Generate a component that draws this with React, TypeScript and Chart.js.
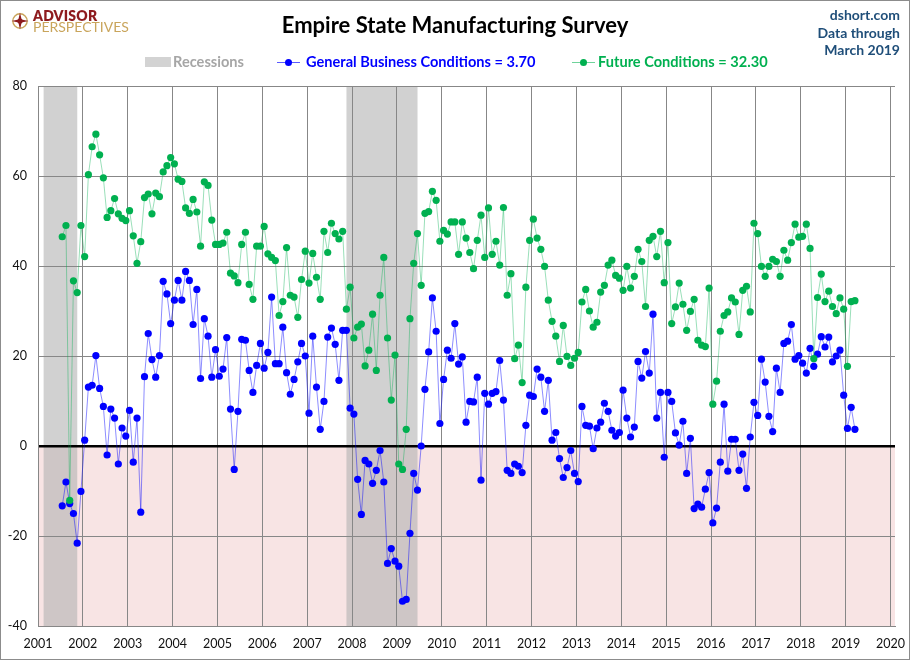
import React, { useEffect, useRef } from 'react';
import Chart from 'chart.js/auto';

// first observation of both series
const startYear = 2001;
const startMonth = 7;

// General Business Conditions, monthly from Jul 2001 to Mar 2019
const generalBusiness = [
  -13.3, -8.0, -12.8, -15.0, -21.6, -10.1, // 2001 (Jul-Dec)
  1.3, 13.1, 13.5, 20.1, 12.8, 8.8, -2.0, 8.2, 6.2, -4.0, 4.0, 2.2, // 2002
  7.9, -3.6, 6.2, -14.7, 15.4, 25.0, 19.2, 15.3, 20.1, 36.6, 33.8, 27.2, // 2003
  32.4, 36.8, 32.4, 38.8, 36.8, 27.0, 34.8, 15.0, 28.3, 24.4, 15.3, 21.4, // 2004
  15.5, 17.1, 24.1, 8.2, -5.2, 7.7, 23.7, 23.5, 16.8, 11.9, 17.9, 22.8, // 2005
  17.3, 20.8, 33.1, 18.3, 18.3, 26.4, 16.3, 11.5, 14.8, 18.7, 22.8, 20.0, // 2006
  7.3, 24.4, 13.1, 3.7, 9.9, 24.2, 26.2, 22.6, 14.6, 25.7, 25.7, 8.4, // 2007
  7.1, -7.4, -15.2, -3.2, -4.0, -8.3, -5.4, -1.0, -8.0, -26.1, -22.8, -25.6, // 2008
  -26.7, -34.5, -34.1, -19.4, -6.1, -9.8, 0.0, 12.6, 20.9, 32.9, 25.5, 5.0, // 2009
  14.8, 21.3, 19.5, 27.2, 18.2, 19.8, 5.3, 9.9, 9.8, 15.3, -7.6, 11.7, // 2010
  9.3, 11.7, 12.1, 19.0, 10.2, -5.4, -6.1, -4.0, -4.5, -5.9, 4.6, 11.3, // 2011
  11.0, 17.1, 15.3, 7.7, 14.6, 1.3, 3.0, -2.8, -7.0, -4.8, -1.0, -6.1, // 2012
  -7.9, 8.8, 4.6, 4.4, -0.6, 4.0, 5.3, 9.5, 7.7, 3.5, 2.2, 3.0, // 2013
  12.4, 6.2, 2.0, 4.2, 18.8, 15.1, 21.0, 16.2, 29.3, 6.2, 11.9, -2.5, // 2014
  11.9, 9.9, 2.9, 0.2, 5.5, -6.1, 1.7, -13.9, -12.9, -13.6, -9.6, -5.9, // 2015
  -17.1, -13.8, -3.6, 9.3, -5.6, 1.5, 1.5, -5.4, -1.8, -9.4, 2.0, 9.7, // 2016
  6.8, 19.3, 14.2, 6.6, 3.2, 17.3, 11.9, 22.8, 23.3, 27.0, 19.3, 20.1, // 2017
  18.4, 16.2, 21.7, 17.7, 20.4, 24.3, 22.0, 24.2, 18.7, 20.0, 21.3, 11.3, // 2018
  3.9, 8.6, 3.7, // 2019 (Jan-Mar)
];

// Future Conditions, same months
const futureConditions = [
  46.5, 49.0, -12.1, 36.7, 34.1, 49.0, // 2001 (Jul-Dec)
  42.1, 60.3, 66.5, 69.3, 64.7, 59.6, 50.8, 52.3, 55.0, 51.6, 50.6, 50.1, // 2002
  52.3, 46.7, 40.6, 45.4, 55.2, 56.0, 51.6, 56.2, 55.4, 60.9, 62.3, 64.1, // 2003
  62.7, 59.3, 58.8, 52.9, 51.7, 54.8, 52.0, 44.4, 58.7, 57.9, 50.2, 44.8, // 2004
  44.8, 45.1, 47.5, 38.4, 37.8, 36.3, 44.8, 47.5, 35.9, 32.6, 44.4, 44.4, // 2005
  48.8, 42.7, 41.9, 41.2, 29.0, 32.1, 44.1, 33.5, 33.1, 28.6, 37.0, 43.3, // 2006
  36.2, 42.8, 37.5, 32.6, 47.7, 43.0, 49.5, 47.2, 46.0, 47.7, 30.4, 35.3, // 2007
  24.0, 26.4, 27.1, 17.8, 21.3, 29.3, 16.8, 33.5, 41.9, 24.0, 10.2, 20.2, // 2008
  -4.0, -5.2, 3.7, 28.3, 40.6, 47.2, 35.7, 51.7, 52.1, 56.6, 54.6, 45.5, // 2009
  47.9, 47.1, 49.8, 49.8, 42.6, 49.8, 46.2, 43.0, 39.4, 45.7, 51.3, 41.9, // 2010
  52.9, 42.6, 45.5, 40.2, 53.0, 33.5, 38.3, 19.4, 22.4, 14.1, 35.3, 45.7, // 2011
  50.4, 46.2, 43.7, 39.9, 32.4, 27.7, 24.4, 18.8, 26.8, 19.9, 17.9, 19.5, // 2012
  20.8, 32.0, 34.8, 30.0, 26.4, 27.5, 34.2, 35.7, 40.2, 41.3, 37.9, 37.3, // 2013
  34.6, 39.9, 35.1, 37.7, 43.7, 41.0, 31.0, 45.7, 46.6, 42.1, 47.7, 36.3, // 2014
  45.2, 27.2, 30.9, 36.2, 31.5, 25.7, 29.9, 32.6, 23.5, 22.4, 22.1, 35.1, // 2015
  9.3, 14.4, 25.5, 29.0, 29.8, 32.9, 32.0, 24.8, 34.6, 35.5, 29.8, 49.5, // 2016
  47.2, 39.9, 37.7, 39.9, 41.5, 41.0, 37.7, 43.5, 41.3, 45.2, 49.3, 46.4, // 2017
  46.6, 49.3, 43.9, 19.4, 33.0, 38.2, 32.1, 34.4, 31.0, 29.4, 32.9, 30.4, // 2018
  17.7, 32.1, 32.3, // 2019 (Jan-Mar)
];

// NBER recessions, first and last month
const recessionStarts = ['2001-03', '2007-12'];
const recessionEnds = ['2001-11', '2009-06'];

const yearTicks = [
  2001, 2002, 2003, 2004, 2005, 2006, 2007, 2008, 2009, 2010,
  2011, 2012, 2013, 2014, 2015, 2016, 2017, 2018, 2019, 2020,
];
const valueTicks = [-40, -20, 0, 20, 40, 60, 80];

const FONT = 'Lato, "Open Sans", sans-serif';
const GRID = '#878787';

const monthX = (i: number) => {
  const m = startMonth - 1 + i;
  return startYear + Math.floor(m / 12) + (m % 12) / 12 + 0.04;
};

const ymToX = (s: string, shift: number) => {
  const [y, m] = s.split('-').map(Number);
  return y + (m - 1 + shift) / 12;
};

const backdrop = {
  id: 'backdrop',
  beforeDraw(chart: any) {
    const { ctx, chartArea: a, scales } = chart;
    const x = scales.x;
    const y = scales.y;
    ctx.save();
    const zero = y.getPixelForValue(0);
    ctx.fillStyle = '#F8E4E4';
    ctx.fillRect(a.left, zero, a.right - a.left, a.bottom - zero);
    ctx.fillStyle = 'rgba(175,175,175,0.58)';
    recessionStarts.forEach((s, i) => {
      const x0 = x.getPixelForValue(ymToX(s, -0.5));
      const x1 = x.getPixelForValue(ymToX(recessionEnds[i], 0.5));
      ctx.fillRect(x0, a.top, x1 - x0, a.bottom - a.top);
    });
    ctx.restore();
  },
};

const EmpireChart: React.FC = () => {
  const canvasRef = useRef<HTMLCanvasElement>(null);
  const chartRef = useRef<Chart | null>(null);

  useEffect(() => {
    if (!canvasRef.current) return;
    if (chartRef.current) chartRef.current.destroy();

    chartRef.current = new Chart(canvasRef.current, {
      type: 'line',
      data: {
        datasets: [
          {
            label: 'Future Conditions',
            data: futureConditions.map((v, i) => ({ x: monthX(i), y: v })),
            borderColor: 'rgba(0,176,80,0.4)',
            borderWidth: 1,
            pointBackgroundColor: '#00B050',
            pointBorderWidth: 0,
            pointRadius: 3.6,
            order: 0,
          },
          {
            label: 'General Business Conditions',
            data: generalBusiness.map((v, i) => ({ x: monthX(i), y: v })),
            borderColor: 'rgba(0,0,255,0.45)',
            borderWidth: 1,
            pointBackgroundColor: '#0000FF',
            pointBorderWidth: 0,
            pointRadius: 3.6,
            order: 1,
          },
        ],
      },
      options: {
        responsive: true,
        maintainAspectRatio: false,
        animation: false,
        layout: { padding: { left: 0, top: 86, right: 15, bottom: 0 } },
        plugins: {
          legend: { display: false },
          title: { display: false },
          tooltip: { enabled: false },
        },
        scales: {
          x: {
            type: 'linear',
            min: 2001,
            max: 2020.1,
            afterBuildTicks: (scale: any) => {
              scale.ticks = yearTicks.map((v) => ({ value: v }));
            },
            afterFit: (scale: any) => {
              scale.height = 34;
              scale.paddingLeft = 0;
              scale.paddingRight = 0;
            },
            grid: { color: GRID, lineWidth: 1, drawTicks: false },
            border: { color: GRID },
            ticks: {
              padding: 10,
              color: '#111',
              font: { family: FONT, size: 12.5 },
              maxRotation: 0,
              autoSkip: false,
              callback: (v: any) => String(v),
            },
          },
          y: {
            min: -40,
            max: 80,
            afterBuildTicks: (scale: any) => {
              scale.ticks = valueTicks.map((v) => ({ value: v }));
            },
            afterFit: (scale: any) => {
              scale.width = 38;
            },
            grid: {
              color: (c: any) => (c.tick && c.tick.value === 0 ? '#000' : GRID),
              lineWidth: (c: any) => (c.tick && c.tick.value === 0 ? 2.5 : 1),
              drawTicks: false,
            },
            border: { color: GRID },
            ticks: {
              padding: 11,
              color: '#111',
              font: { family: FONT, size: 12.5 },
            },
          },
        },
      },
      plugins: [backdrop],
    });

    return () => {
      if (chartRef.current) {
        chartRef.current.destroy();
        chartRef.current = null;
      }
    };
  }, []);

  return <canvas ref={canvasRef} />;
};

const txt = (
  left: number | null,
  cy: number,
  size: number,
  color: string,
  weight: number,
  extra: React.CSSProperties = {}
): React.CSSProperties => ({
  position: 'absolute',
  top: cy - 10,
  left: left === null ? undefined : left,
  lineHeight: '20px',
  fontSize: size,
  fontWeight: weight,
  color,
  fontFamily: FONT,
  whiteSpace: 'nowrap',
  ...extra,
});

const Marker: React.FC<{ left: number; color: string; line: string }> = ({ left, color, line }) => (
  <div style={{ position: 'absolute', left, top: 58, width: 23, height: 8 }}>
    <div style={{ position: 'absolute', left: 0, top: 3.5, width: 23, height: 1, background: line }} />
    <div
      style={{
        position: 'absolute',
        left: 8,
        top: 0.5,
        width: 7,
        height: 7,
        borderRadius: '50%',
        background: color,
      }}
    />
  </div>
);

const App: React.FC = () => {
  useEffect(() => {
    document.body.style.margin = '0';
  }, []);

  return (
    <div style={{ position: 'absolute', left: 0, top: 0, width: 910, height: 660, background: '#fff' }}>
      <div style={{ position: 'absolute', left: 0, top: 0, width: 910, height: 660 }}>
        <EmpireChart />
      </div>

      {/* logo */}
      <svg
        style={{ position: 'absolute', left: 11, top: 12 }}
        width={18}
        height={18}
        viewBox="0 0 18 18"
      >
        <circle cx={9} cy={9} r={7.2} fill="none" stroke="#C9A55C" strokeWidth={1.4} />
        <path d="M9 0.5 L10.6 7.4 L17.5 9 L10.6 10.6 L9 17.5 L7.4 10.6 L0.5 9 L7.4 7.4 Z" fill="#8E1B1E" />
        <circle cx={9} cy={9} r={2.6} fill="#8E1B1E" />
      </svg>
      <div style={txt(33, 16, 14, '#8E1B1E', 800, { letterSpacing: 0.2 })}>ADVISOR</div>
      <div style={txt(33, 27, 14, '#C9A55C', 400, { letterSpacing: 0 })}>PERSPECTIVES</div>

      {/* title */}
      <div style={txt(0, 25, 22, '#000', 700, { width: 910, textAlign: 'center' })}>
        Empire State Manufacturing Survey
      </div>

      {/* source block */}
      <div style={txt(null, 15, 14, '#1F4E79', 700, { right: 10, textAlign: 'right' })}>dshort.com</div>
      <div style={txt(null, 32.5, 14, '#1F4E79', 700, { right: 10, textAlign: 'right' })}>Data through</div>
      <div style={txt(null, 50, 14, '#1F4E79', 700, { right: 10, textAlign: 'right' })}>March 2019</div>

      {/* legend */}
      <div style={{ position: 'absolute', left: 145, top: 57, width: 26, height: 10, background: '#D3D3D3' }} />
      <div style={txt(173, 62, 14.6, '#A6A6A6', 700)}>Recessions</div>
      <Marker left={277} color="#0000FF" line="#5a5aff" />
      <div style={txt(306, 62, 14.6, '#0000FF', 700)}>General Business Conditions = 3.70</div>
      <Marker left={572} color="#00B050" line="#6fd39b" />
      <div style={txt(598, 62, 14.6, '#00B050', 700)}>Future Conditions = 32.30</div>

      {/* outer frame */}
      <div
        style={{
          position: 'absolute',
          left: 0,
          top: 0,
          width: 910,
          height: 660,
          boxSizing: 'border-box',
          border: '1px solid #8c8c8c',
          pointerEvents: 'none',
        }}
      />
    </div>
  );
};

export default App;
